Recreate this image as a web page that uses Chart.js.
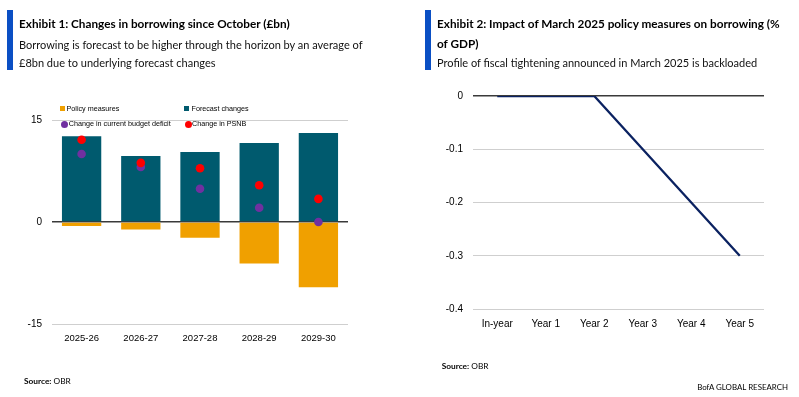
<!DOCTYPE html>
<html>
<head>
<meta charset="utf-8">
<script src="https://cdn.jsdelivr.net/npm/chart.js@4.4.1/dist/chart.umd.min.js"></script>
<style>
  html, body { margin: 0; padding: 0; background: #fff; }
  body { width: 799px; height: 397px; position: relative; overflow: hidden; font-family: Lato, "Liberation Sans", sans-serif; color: #000; }
  .abs { position: absolute; white-space: nowrap; }
  .bar { position: absolute; background: #0a4fc4; width: 6px; top: 10px; height: 60px; }
  .title { font-weight: 700; font-size: 11.75px; }
  .sub { font-size: 11px; color: #111; }
  .leg { position: absolute; font-family: "Liberation Sans", Arial, sans-serif; font-size: 7.2px; color: #000; white-space: nowrap; line-height: 10px; }
  .sq { position: absolute; width: 5px; height: 5px; }
  .dot { position: absolute; width: 7px; height: 7px; border-radius: 50%; }
  .src { font-size: 8.3px; }
  canvas { position: absolute; top: 0; }
</style>
</head>
<body>
<canvas id="c1" width="400" height="397" style="left:0"></canvas>
<canvas id="c2" width="399" height="397" style="left:400px"></canvas>

<div class="bar" style="left:7px"></div>
<div class="abs title" style="left:19px; top:15px; line-height:18px">Exhibit 1: Changes in borrowing since October (£bn)</div>
<div class="abs sub" style="left:19px; top:36px; line-height:18px">Borrowing is forecast to be higher through the horizon by an average of<br>£8bn due to underlying forecast changes</div>

<div class="bar" style="left:425px"></div>
<div class="abs title" style="left:437px; top:14.3px; line-height:19.3px">Exhibit 2: Impact of March 2025 policy measures on borrowing (%<br>of GDP)</div>
<div class="abs sub" style="left:437px; top:52.5px; line-height:19px">Profile of fiscal tightening announced in March 2025 is backloaded</div>

<div class="sq" style="left:60px; top:106px; background:#f0a000"></div>
<div class="leg" style="left:66.5px; top:103.7px">Policy measures</div>
<div class="sq" style="left:184px; top:106px; background:#005a6e"></div>
<div class="leg" style="left:191.5px; top:103.7px">Forecast changes</div>
<div class="dot" style="left:60.8px; top:120.8px; background:#7030a0"></div>
<div class="leg" style="left:68.8px; top:119.3px">Change in current budget deficit</div>
<div class="dot" style="left:184.8px; top:120.8px; background:#ff0000"></div>
<div class="leg" style="left:192px; top:119.3px">Change in PSNB</div>

<div class="abs src" style="left:24px; top:376px"><b>Source:</b> OBR</div>
<div class="abs src" style="left:441.7px; top:360.5px"><b>Source:</b> OBR</div>
<div class="abs src" style="right:11px; top:381.5px; font-size:7.9px">BofA GLOBAL RESEARCH</div>

<script>
// ---- Exhibit 1 data ----
const categories = ['2025-26', '2026-27', '2027-28', '2028-29', '2029-30'];
const policyMeasures = [-0.6, -1.1, -2.3, -6.1, -9.6];
const forecastChanges = [12.6, 9.7, 10.3, 11.6, 13.1];
const currentBudgetDeficit = [10.0, 8.1, 4.9, 2.1, 0.0];
const changeInPSNB = [12.1, 8.7, 7.9, 5.4, 3.4];
const leftTicks = [-15, 0, 15];

// ---- Exhibit 2 data ----
const years = ['In-year', 'Year 1', 'Year 2', 'Year 3', 'Year 4', 'Year 5'];
const policyImpact = [0, 0, 0, -0.1, -0.2, -0.3];
const rightTicks = [-0.4, -0.3, -0.2, -0.1, 0];

const tickFont = { family: '"Liberation Sans", Arial, sans-serif' };
const gridColor = ctx => (ctx.tick && ctx.tick.value === 0) ? '#3a3a3a' : '#cfcfcf';
const gridWidth = ctx => (ctx.tick && ctx.tick.value === 0) ? 1.6 : 1;

new Chart(document.getElementById('c1'), {
  type: 'bar',
  data: {
    labels: categories,
    datasets: [
      { type: 'line', label: 'Change in PSNB', data: changeInPSNB, showLine: false,
        pointRadius: 4.3, pointBackgroundColor: '#ff0000', pointBorderWidth: 0, order: 0 },
      { type: 'line', label: 'Change in current budget deficit', data: currentBudgetDeficit, showLine: false,
        pointRadius: 4.3, pointBackgroundColor: '#7030a0', pointBorderWidth: 0, order: 1 },
      { label: 'Forecast changes', data: forecastChanges, backgroundColor: '#005a6e', order: 2 },
      { label: 'Policy measures', data: policyMeasures, backgroundColor: '#f0a000', order: 3 }
    ]
  },
  options: {
    responsive: false, animation: false,
    layout: { padding: { left: 0, right: 52, top: 120, bottom: 43 } },
    datasets: { bar: { grouped: false, categoryPercentage: 1, barPercentage: 0.664 } },
    plugins: { legend: { display: false }, tooltip: { enabled: false } },
    scales: {
      x: {
        grid: { display: false, drawTicks: false }, border: { display: false },
        ticks: { color: '#000', font: { ...tickFont, size: 9.5 }, padding: 8.5 },
        afterFit: a => { a.height = 30; }
      },
      y: {
        min: -15, max: 15,
        afterBuildTicks: a => { a.ticks = leftTicks.map(v => ({ value: v })); },
        grid: { color: gridColor, lineWidth: gridWidth, drawTicks: false }, border: { display: false },
        ticks: { color: '#000', font: { ...tickFont, size: 10 }, padding: 10 },
        afterFit: a => { a.width = 52; }
      }
    }
  }
});

new Chart(document.getElementById('c2'), {
  type: 'line',
  data: {
    labels: years,
    datasets: [
      { label: 'Impact', data: policyImpact, borderColor: '#0b2261', borderWidth: 2.3,
        pointRadius: 0, tension: 0, fill: false }
    ]
  },
  options: {
    responsive: false, animation: false,
    layout: { padding: { left: 0, right: 35, top: 96, bottom: 58 } },
    plugins: { legend: { display: false }, tooltip: { enabled: false } },
    scales: {
      x: {
        offset: true,
        grid: { display: false, drawTicks: false }, border: { display: false },
        ticks: { color: '#000', font: { ...tickFont, size: 10 }, padding: 9 },
        afterFit: a => { a.height = 30; }
      },
      y: {
        min: -0.4, max: 0,
        afterBuildTicks: a => { a.ticks = rightTicks.map(v => ({ value: v })); },
        grid: { color: gridColor, lineWidth: gridWidth, drawTicks: false }, border: { display: false },
        ticks: { color: '#000', font: { ...tickFont, size: 10 }, padding: 10,
                 callback: v => String(Math.round(v * 10) / 10) },
        afterFit: a => { a.width = 73; }
      }
    }
  }
});
</script>
</body>
</html>
